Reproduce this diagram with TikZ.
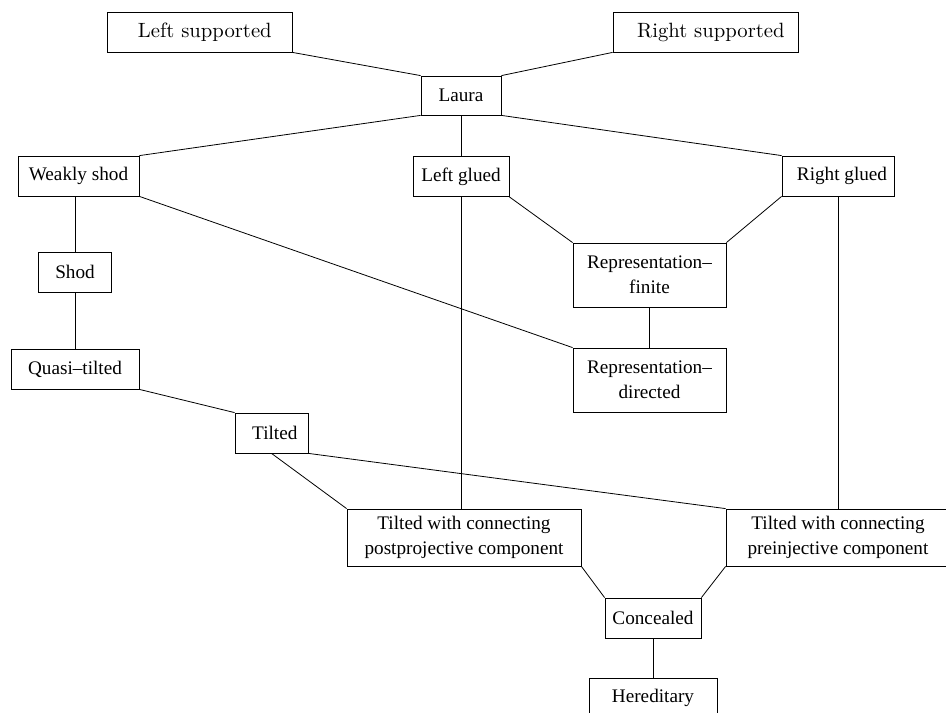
\documentclass[tikz,border=0pt]{standalone}
\usepackage{fontspec}
\newfontfamily\timesfont{Liberation Serif}
\newfontfamily\lmtenfont{lmroman10-regular}[Extension=.otf]

\begin{document}
\begin{tikzpicture}[x=0.75pt, y=-0.75pt, line width=0.6pt,
    main/.style = {draw, rectangle, inner sep=0pt, minimum height=30pt, align=center,
                   font=\timesfont\fontsize{14.4}{18.5}\selectfont},
    top/.style = {main, font=\lmtenfont\fontsize{15.5}{18}\selectfont}]
    \useasboundingbox (0,0) rectangle (946,713);
    \clip (0,0) rectangle (946,713);
    \node[top, minimum width=138.75pt] (lsup) at (199.5,32) {\hspace*{8pt}Left supported};
    \node[top, minimum width=138.75pt] (rsup) at (705.5,32) {\hspace*{8pt}Right supported};
    \node[main, minimum width=60pt, minimum height=29.25pt] (laura) at (461,95.5) {Laura};
    \node[main, minimum width=90.75pt] (wshod) at (78.5,176) {Weakly shod};
    \node[main, minimum width=72pt] (lglued) at (461,176.5) {Left glued};
    \node[main, minimum width=84pt] (rglued) at (838,176) {\hspace*{6pt}Right glued};
    \node[main, minimum width=54.75pt] (shod) at (75,272) {Shod};
    \node[main, minimum width=96pt] (qtilted) at (75,369) {Quasi–tilted};
    \node[main, minimum width=114.75pt, minimum height=48pt] (rfin) at (649.5,275) {Representation–\\finite};
    \node[main, minimum width=114.75pt, minimum height=48pt] (rdir) at (649.5,380) {Representation–\\directed};
    \node[main, minimum width=54.75pt] (tilted) at (271.5,433) {\hspace*{5pt}Tilted};
    \node[main, minimum width=175.5pt, minimum height=42.75pt] (twpost) at (464,537.5) {Tilted with connecting\\postprojective component};
    \node[main, minimum width=168pt, minimum height=42.75pt] (twpre) at (838,537.5) {Tilted with connecting\\preinjective component};
    \node[main, minimum width=72pt] (concealed) at (653,618) {Concealed};
    \node[main, minimum width=96pt] (hered) at (653,698) {Hereditary};
    \draw (lsup.south east)--(laura.north west);
    \draw (rsup.south west)--(laura.north east);
    \draw (laura.south west)--(wshod.north east);
    \draw (laura.south)--(lglued.north);
    \draw (laura.south east)--(rglued.north west);
    \draw (shod.north)--(shod.north |- wshod.south);
    \draw (shod.south)--(qtilted.north);
    \draw (wshod.south east)--(rdir.north west);
    \draw (lglued.south east)--(rfin.north west);
    \draw (rglued.south west)--(rfin.north east);
    \draw (rfin.south)--(rdir.north);
    \draw (qtilted.south east)--(tilted.north west);
    \draw (tilted.south)--(twpost.north west);
    \draw (tilted.south east)--(twpre.north west);
    \draw (lglued.south)--(lglued.south |- twpost.north);
    \draw (rglued.south)--(twpre.north);
    \draw (twpost.south east)--(concealed.north west);
    \draw (twpre.south west)--(concealed.north east);
    \draw (concealed.south)--(hered.north);
\end{tikzpicture}
\end{document}
